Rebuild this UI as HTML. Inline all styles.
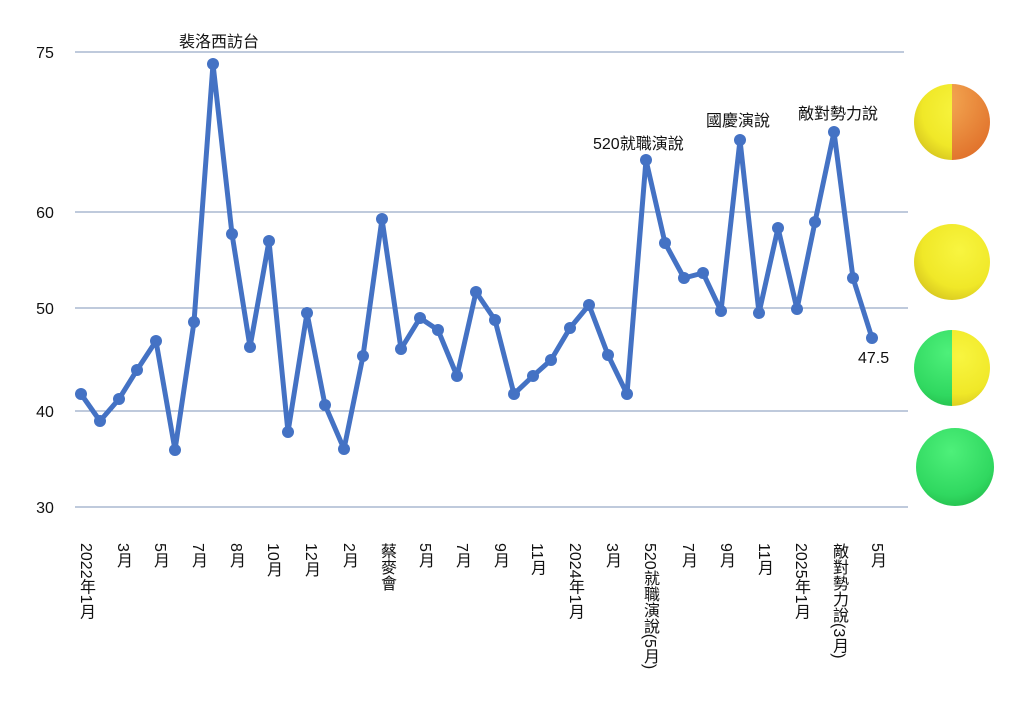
<!DOCTYPE html>
<html><head><meta charset="utf-8"><style>
body{margin:0;background:#fff;width:1024px;height:703px;overflow:hidden;position:relative;font-family:"Liberation Sans","Noto Sans CJK TC",sans-serif}
.xl{position:absolute;top:543px;writing-mode:vertical-rl;font-size:16px;color:#111;line-height:16px;font-family:"Liberation Sans","Noto Sans CJK TC",sans-serif}
</style></head><body>
<svg width="1024" height="703" style="position:absolute;left:0;top:0">
<defs>
<radialGradient id="gy" cx="0.6" cy="0.35" r="0.7"><stop offset="0" stop-color="#f8f540"/><stop offset="0.7" stop-color="#f0e828"/><stop offset="1" stop-color="#d8c820"/></radialGradient>
<radialGradient id="go" cx="0.3" cy="0.2" r="0.9"><stop offset="0" stop-color="#f6b058"/><stop offset="1" stop-color="#e0702a"/></radialGradient>
<radialGradient id="gg" cx="0.45" cy="0.3" r="0.8"><stop offset="0" stop-color="#4ef07a"/><stop offset="0.7" stop-color="#30d860"/><stop offset="1" stop-color="#22b848"/></radialGradient>
<clipPath id="L1"><rect x="900" y="0" width="52" height="703"/></clipPath>
<clipPath id="R1"><rect x="952" y="0" width="60" height="703"/></clipPath>
</defs>
<g stroke="#7f96b8" stroke-width="1">
<line x1="75" y1="52" x2="904" y2="52"/><line x1="75" y1="212" x2="908" y2="212"/>
<line x1="75" y1="308" x2="908" y2="308"/><line x1="75" y1="411" x2="908" y2="411"/>
<line x1="75" y1="507" x2="908" y2="507"/>
</g>
<g font-size="16" fill="#111" text-anchor="middle">
<text x="45" y="58">75</text><text x="45" y="218">60</text><text x="45" y="314">50</text><text x="45" y="417">40</text><text x="45" y="513">30</text>
</g>
<polyline fill="none" stroke="#4472c4" stroke-width="5" stroke-linejoin="round" points="81,394 100,421 119,399 137,370 156,341 175,450 194,322 213,64 232,234 250,347 269,241 288,432 307,313 325,405 344,449 363,356 382,219 401,349 420,318 438,330 457,376 476,292 495,320 514,394 533,376 551,360 570,328 589,305 608,355 627,394 646,160 665,243 684,278 703,273 721,311 740,140 759,313 778,228 797,309 815,222 834,132 853,278 872,338"/>
<g fill="#4472c4">
<circle cx="81" cy="394" r="6"/><circle cx="100" cy="421" r="6"/><circle cx="119" cy="399" r="6"/><circle cx="137" cy="370" r="6"/><circle cx="156" cy="341" r="6"/><circle cx="175" cy="450" r="6"/><circle cx="194" cy="322" r="6"/><circle cx="213" cy="64" r="6"/><circle cx="232" cy="234" r="6"/><circle cx="250" cy="347" r="6"/><circle cx="269" cy="241" r="6"/><circle cx="288" cy="432" r="6"/><circle cx="307" cy="313" r="6"/><circle cx="325" cy="405" r="6"/><circle cx="344" cy="449" r="6"/><circle cx="363" cy="356" r="6"/><circle cx="382" cy="219" r="6"/><circle cx="401" cy="349" r="6"/><circle cx="420" cy="318" r="6"/><circle cx="438" cy="330" r="6"/><circle cx="457" cy="376" r="6"/><circle cx="476" cy="292" r="6"/><circle cx="495" cy="320" r="6"/><circle cx="514" cy="394" r="6"/><circle cx="533" cy="376" r="6"/><circle cx="551" cy="360" r="6"/><circle cx="570" cy="328" r="6"/><circle cx="589" cy="305" r="6"/><circle cx="608" cy="355" r="6"/><circle cx="627" cy="394" r="6"/><circle cx="646" cy="160" r="6"/><circle cx="665" cy="243" r="6"/><circle cx="684" cy="278" r="6"/><circle cx="703" cy="273" r="6"/><circle cx="721" cy="311" r="6"/><circle cx="740" cy="140" r="6"/><circle cx="759" cy="313" r="6"/><circle cx="778" cy="228" r="6"/><circle cx="797" cy="309" r="6"/><circle cx="815" cy="222" r="6"/><circle cx="834" cy="132" r="6"/><circle cx="853" cy="278" r="6"/><circle cx="872" cy="338" r="6"/>
</g>
<g font-size="16" fill="#111" font-family="Liberation Sans,Noto Sans CJK TC,sans-serif">
<text x="179" y="47">裴洛西訪台</text>
<text x="593" y="149">520就職演說</text>
<text x="706" y="126">國慶演說</text>
<text x="798" y="119">敵對勢力說</text>
<text x="858" y="363">47.5</text>
</g>
<circle cx="952" cy="122" r="38" fill="url(#gy)" clip-path="url(#L1)"/>
<circle cx="952" cy="122" r="38" fill="url(#go)" clip-path="url(#R1)"/>
<circle cx="952" cy="262" r="38" fill="url(#gy)"/>
<circle cx="952" cy="368" r="38" fill="url(#gg)" clip-path="url(#L1)"/>
<circle cx="952" cy="368" r="38" fill="url(#gy)" clip-path="url(#R1)"/>
<circle cx="955" cy="467" r="39" fill="url(#gg)"/>
</svg>
<div class="xl" style="left:77px">2022年1月</div>
<div class="xl" style="left:114px">3月</div>
<div class="xl" style="left:151px">5月</div>
<div class="xl" style="left:189px">7月</div>
<div class="xl" style="left:227px">8月</div>
<div class="xl" style="left:264px">10月</div>
<div class="xl" style="left:302px">12月</div>
<div class="xl" style="left:340px">2月</div>
<div class="xl" style="left:378px">蔡麥會</div>
<div class="xl" style="left:416px">5月</div>
<div class="xl" style="left:453px">7月</div>
<div class="xl" style="left:491px">9月</div>
<div class="xl" style="left:528px">11月</div>
<div class="xl" style="left:566px">2024年1月</div>
<div class="xl" style="left:603px">3月</div>
<div class="xl" style="left:641px">520就職演說(5月)</div>
<div class="xl" style="left:679px">7月</div>
<div class="xl" style="left:717px">9月</div>
<div class="xl" style="left:755px">11月</div>
<div class="xl" style="left:792px">2025年1月</div>
<div class="xl" style="left:830px">敵對勢力說(3月)</div>
<div class="xl" style="left:868px">5月</div>
</body></html>
